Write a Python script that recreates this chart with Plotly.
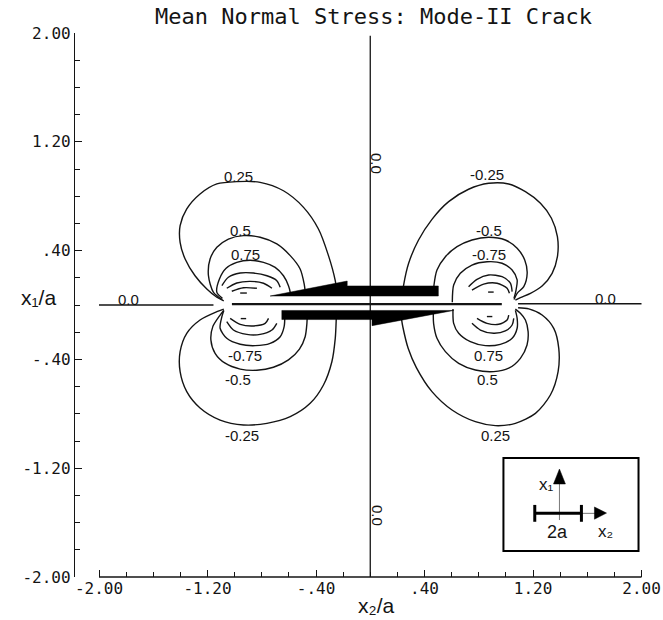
import plotly.graph_objects as go

# ---------------- contour lines (x2/a, x1/a) ----------------
# upper-left quadrant (positive levels)
UL_025_X = [-0.25, -0.258, -0.308, -0.382, -0.492, -0.640, -0.812, -0.984, -1.131, -1.255, -1.353, -1.402, -1.402, -1.365, -1.292, -1.205, -1.131, -1.08]
UL_025_Y = [0.12, 0.179, 0.363, 0.559, 0.718, 0.840, 0.902, 0.907, 0.890, 0.816, 0.706, 0.583, 0.461, 0.338, 0.215, 0.118, 0.057, 0.03]
UL_050_X = [-1.09, -1.156, -1.193, -1.181, -1.131, -1.046, -0.935, -0.812, -0.689, -0.590, -0.517, -0.487, -0.48]
UL_050_Y = [0.04, 0.093, 0.215, 0.338, 0.424, 0.485, 0.510, 0.498, 0.449, 0.363, 0.265, 0.154, 0.10]
UL_075_X = [-1.09, -1.131, -1.112, -1.063, -0.984, -0.886, -0.787, -0.701, -0.640, -0.603, -0.590, -0.588]
UL_075_Y = [0.05, 0.093, 0.191, 0.270, 0.314, 0.329, 0.314, 0.277, 0.215, 0.142, 0.093, 0.07]
UL_IN1_X = [-1.094, -1.046, -0.959, -0.861, -0.762, -0.689, -0.664]
UL_IN1_Y = [0.142, 0.204, 0.235, 0.235, 0.215, 0.179, 0.130]
UL_IN2_X = [-1.058, -0.984, -0.886, -0.787, -0.725]
UL_IN2_Y = [0.123, 0.162, 0.174, 0.160, 0.123]
UL_IN3_X = [-1.021, -0.935, -0.836]
UL_IN3_Y = [0.101, 0.127, 0.123]
UL_DASH_X = [-0.959, -0.91]
UL_DASH_Y = [0.088, 0.088]

# upper-right quadrant (negative levels)
UR_025_X = [0.24, 0.246, 0.283, 0.356, 0.455, 0.578, 0.725, 0.873, 1.021, 1.144, 1.255, 1.336, 1.380, 1.380, 1.341, 1.267, 1.181, 1.107, 1.07]
UR_025_Y = [0.10, 0.147, 0.307, 0.478, 0.630, 0.760, 0.851, 0.895, 0.890, 0.833, 0.748, 0.638, 0.502, 0.355, 0.233, 0.140, 0.086, 0.054, 0.035]
UR_050_X = [0.467, 0.470, 0.492, 0.554, 0.640, 0.750, 0.873, 0.996, 1.083, 1.139, 1.157, 1.132, 1.083, 1.06]
UR_050_Y = [0.10, 0.147, 0.257, 0.355, 0.429, 0.478, 0.498, 0.478, 0.417, 0.331, 0.233, 0.135, 0.086, 0.04]
UR_075_X = [0.605, 0.615, 0.664, 0.750, 0.861, 0.972, 1.046, 1.083, 1.075, 1.06]
UR_075_Y = [0.02, 0.147, 0.233, 0.294, 0.318, 0.307, 0.257, 0.184, 0.110, 0.05]
UR_IN1_X = [0.725, 0.787, 0.873, 0.972, 1.033, 1.046]
UR_IN1_Y = [0.135, 0.189, 0.221, 0.208, 0.160, 0.098]
UR_IN2_X = [0.750, 0.836, 0.935, 1.009, 1.026]
UR_IN2_Y = [0.110, 0.154, 0.160, 0.123, 0.086]
UR_DASH_X = [0.869, 0.910]
UR_DASH_Y = [0.095, 0.095]

# lower-left quadrant (negative levels)
LL_025_X = [-1.08, -1.131, -1.255, -1.353, -1.402, -1.402, -1.353, -1.255, -1.107, -0.935, -0.762, -0.590, -0.443, -0.345, -0.283, -0.258, -0.251, -0.25]
LL_025_Y = [-0.03, -0.049, -0.110, -0.208, -0.343, -0.490, -0.637, -0.757, -0.846, -0.882, -0.870, -0.821, -0.723, -0.588, -0.417, -0.245, -0.110, -0.07]
LL_050_X = [-1.08, -1.107, -1.161, -1.175, -1.144, -1.070, -0.959, -0.836, -0.714, -0.603, -0.522, -0.480, -0.467, -0.465]
LL_050_Y = [-0.04, -0.074, -0.159, -0.257, -0.355, -0.428, -0.471, -0.480, -0.458, -0.404, -0.324, -0.233, -0.135, -0.08]
LL_075_X = [-1.08, -1.094, -1.107, -1.058, -0.959, -0.849, -0.738, -0.664, -0.635, -0.63]
LL_075_Y = [-0.04, -0.086, -0.171, -0.245, -0.289, -0.299, -0.282, -0.233, -0.159, -0.08]
LL_IN1_X = [-1.058, -1.009, -0.910, -0.812, -0.725, -0.689]
LL_IN1_Y = [-0.123, -0.184, -0.216, -0.216, -0.184, -0.135]
LL_IN2_X = [-1.033, -0.959, -0.861, -0.775, -0.750]
LL_IN2_Y = [-0.098, -0.142, -0.154, -0.135, -0.098]
LL_DASH_X = [-0.955, -0.915]
LL_DASH_Y = [-0.10, -0.10]

# lower-right quadrant (positive levels)
LR_025_X = [0.23, 0.24, 0.28, 0.34, 0.455, 0.603, 0.775, 0.923, 1.070, 1.218, 1.328, 1.385, 1.390, 1.353, 1.267, 1.169, 1.09]
LR_025_Y = [-0.10, -0.16, -0.32, -0.46, -0.637, -0.772, -0.858, -0.887, -0.870, -0.797, -0.662, -0.490, -0.319, -0.172, -0.074, -0.029, -0.02]
LR_050_X = [0.465, 0.467, 0.492, 0.554, 0.652, 0.775, 0.910, 1.021, 1.107, 1.156, 1.164, 1.144, 1.107, 1.07]
LR_050_Y = [-0.06, -0.135, -0.245, -0.343, -0.429, -0.478, -0.490, -0.465, -0.392, -0.294, -0.196, -0.110, -0.061, -0.03]
LR_075_X = [0.61, 0.615, 0.652, 0.738, 0.849, 0.959, 1.046, 1.083, 1.083, 1.07]
LR_075_Y = [-0.03, -0.135, -0.208, -0.270, -0.299, -0.289, -0.245, -0.171, -0.098, -0.04]
LR_IN1_X = [0.750, 0.812, 0.910, 0.996, 1.046, 1.058]
LR_IN1_Y = [-0.135, -0.184, -0.208, -0.191, -0.147, -0.098]
LR_IN2_X = [0.787, 0.861, 0.947, 1.009, 1.021]
LR_IN2_Y = [-0.098, -0.135, -0.142, -0.110, -0.074]
LR_DASH_X = [0.86, 0.90]
LR_DASH_Y = [-0.085, -0.085]

# zero contours and the crack line
ZERO_LEFT_X = [-2.0, -1.156]
ZERO_LEFT_Y = [0.0, 0.0]
ZERO_RIGHT_X = [1.09, 2.0]
ZERO_RIGHT_Y = [0.01, 0.01]
CRACK_X = [-1.02, 0.97]
CRACK_Y = [0.007, 0.007]
ZERO_VERT_X = [0.0, 0.0]
ZERO_VERT_Y = [1.98, -2.0]

# contour labels
LABEL_TEXT = ["0.25", "0.5", "0.75", "-0.25", "-0.5", "-0.75",
              "-0.75", "-0.5", "-0.25", "0.75", "0.5", "0.25", "0.0", "0.0"]
LABEL_X = [-0.972, -0.959, -0.923, 0.861, 0.873, 0.873,
           -0.923, -0.972, -0.947, 0.873, 0.861, 0.923, -1.784, 1.734]
LABEL_Y = [0.943, 0.551, 0.368, 0.956, 0.551, 0.375,
           -0.368, -0.551, -0.956, -0.368, -0.551, -0.961, 0.042, 0.049]
VLABEL_Y = [1.044, -1.544]

# shear arrows on the crack faces
TOP_ARROW_X = [-0.738, -0.170, -0.170, 0.502, 0.502]
TOP_ARROW_Y = [0.066, 0.176, 0.140, 0.140, 0.066]
BOT_ARROW_X = [-0.652, 0.615, 0.013, 0.013, -0.652]
BOT_ARROW_Y = [-0.040, -0.040, -0.152, -0.107, -0.107]

# axis ticks
TICK_VALS = [-2.0, -1.2, -0.4, 0.4, 1.2, 2.0]
TICK_TEXT = ["-2.00", "-1.20", "-.40", ".40", "1.20", "2.00"]

# inset sketch geometry (data units)
INSET_BOX = [0.982, -1.809, 1.978, -1.125]
INSET_VAXIS = [1.395, -1.581, 1.395, -1.30]
INSET_UPHEAD_X = [1.395, 1.351, 1.439]
INSET_UPHEAD_Y = [-1.206, -1.316, -1.316]
INSET_BAR = [1.213, 1.557, -1.532]
INSET_HLINE = [1.557, 1.68, -1.532]
INSET_RHEAD_X = [1.742, 1.653, 1.653]
INSET_RHEAD_Y = [-1.530, -1.485, -1.575]

INK = "#141414"
MONO = "DejaVu Sans Mono"
SANS = "Liberation Sans, DejaVu Sans"

fig = go.Figure()

def add_line(xs, ys, width=1.4, shape="spline"):
    fig.add_trace(go.Scatter(x=xs, y=ys, mode="lines",
                             line=dict(color=INK, width=width, shape=shape, smoothing=0.8),
                             hoverinfo="skip", showlegend=False))

curves = [
    (UL_025_X, UL_025_Y), (UL_050_X, UL_050_Y), (UL_075_X, UL_075_Y),
    (UL_IN1_X, UL_IN1_Y), (UL_IN2_X, UL_IN2_Y), (UL_IN3_X, UL_IN3_Y), (UL_DASH_X, UL_DASH_Y),
    (UR_025_X, UR_025_Y), (UR_050_X, UR_050_Y), (UR_075_X, UR_075_Y),
    (UR_IN1_X, UR_IN1_Y), (UR_IN2_X, UR_IN2_Y), (UR_DASH_X, UR_DASH_Y),
    (LL_025_X, LL_025_Y), (LL_050_X, LL_050_Y), (LL_075_X, LL_075_Y),
    (LL_IN1_X, LL_IN1_Y), (LL_IN2_X, LL_IN2_Y), (LL_DASH_X, LL_DASH_Y),
    (LR_025_X, LR_025_Y), (LR_050_X, LR_050_Y), (LR_075_X, LR_075_Y),
    (LR_IN1_X, LR_IN1_Y), (LR_IN2_X, LR_IN2_Y), (LR_DASH_X, LR_DASH_Y),
]
for cx, cy in curves:
    add_line(cx, cy)

add_line(ZERO_LEFT_X, ZERO_LEFT_Y, 1.5, "linear")
add_line(ZERO_RIGHT_X, ZERO_RIGHT_Y, 1.5, "linear")
add_line(CRACK_X, CRACK_Y, 2.2, "linear")
add_line(ZERO_VERT_X, ZERO_VERT_Y, 1.3, "linear")

def note(x, y, text, size, family=SANS, ref="x", angle=0):
    yref = "y" if ref == "x" else "paper"
    return dict(x=x, y=y, xref=ref, yref=yref, text=text, showarrow=False,
                xanchor="center", yanchor="middle", textangle=angle,
                font=dict(family=family, size=size, color=INK))

annotations = []
for t, lx, ly in zip(LABEL_TEXT, LABEL_X, LABEL_Y):
    annotations.append(note(lx, ly, t, 15))
for vy in VLABEL_Y:
    annotations.append(note(0.05, vy, "0.0", 15, angle=90))

# title and axis titles (paper coordinates so they are not hidden off-range)
annotations.append(note(0.519, 1.031, "Mean Normal Stress: Mode-II Crack", 22, MONO, "paper"))
annotations.append(note(-0.064, 0.513, "x₁/a", 21, SANS, "paper"))
annotations.append(note(0.523, -0.053, "x₂/a", 21, SANS, "paper"))
# inset texts
annotations.append(note(1.30, -1.322, "x₁", 17))
annotations.append(note(1.38, -1.669, "2a", 18))
annotations.append(note(1.735, -1.669, "x₂", 17))

def poly(xs, ys):
    return "M " + " L ".join(f"{a},{b}" for a, b in zip(xs, ys)) + " Z"

shapes = [
    dict(type="path", path=poly(TOP_ARROW_X, TOP_ARROW_Y), xref="x", yref="y",
         fillcolor="black", line=dict(color="black", width=0.5)),
    dict(type="path", path=poly(BOT_ARROW_X, BOT_ARROW_Y), xref="x", yref="y",
         fillcolor="black", line=dict(color="black", width=0.5)),
    # bottom axis line spanning only -2..2
    dict(type="line", xref="x", yref="paper", x0=-2.0, x1=2.0, y0=0, y1=0,
         line=dict(color=INK, width=1.3)),
    # inset
    dict(type="rect", xref="x", yref="y", x0=INSET_BOX[0], y0=INSET_BOX[1], x1=INSET_BOX[2], y1=INSET_BOX[3],
         line=dict(color="black", width=2), fillcolor="white"),
    dict(type="line", xref="x", yref="y", x0=INSET_VAXIS[0], y0=INSET_VAXIS[1], x1=INSET_VAXIS[2], y1=INSET_VAXIS[3],
         line=dict(color="#777", width=1)),
    dict(type="path", path=poly(INSET_UPHEAD_X, INSET_UPHEAD_Y), xref="x", yref="y",
         fillcolor="black", line=dict(color="black", width=0.5)),
    dict(type="line", xref="x", yref="y", x0=INSET_HLINE[0], y0=INSET_HLINE[2], x1=INSET_HLINE[1], y1=INSET_HLINE[2],
         line=dict(color="#777", width=1)),
    dict(type="path", path=poly(INSET_RHEAD_X, INSET_RHEAD_Y), xref="x", yref="y",
         fillcolor="black", line=dict(color="black", width=0.5)),
    dict(type="line", xref="x", yref="y", x0=INSET_BAR[0], y0=INSET_BAR[2], x1=INSET_BAR[1], y1=INSET_BAR[2],
         line=dict(color="black", width=3)),
    dict(type="line", xref="x", yref="y", x0=INSET_BAR[0], y0=INSET_BAR[2] + 0.062, x1=INSET_BAR[0], y1=INSET_BAR[2] - 0.062,
         line=dict(color="black", width=3)),
    dict(type="line", xref="x", yref="y", x0=INSET_BAR[1], y0=INSET_BAR[2] + 0.062, x1=INSET_BAR[1], y1=INSET_BAR[2] - 0.062,
         line=dict(color="black", width=3)),
]

fig.update_layout(
    width=663, height=620,
    margin=dict(l=75, r=12, t=33, b=43, autoexpand=False),
    paper_bgcolor="white", plot_bgcolor="white",
    showlegend=False,
    annotations=annotations,
    shapes=shapes,
    xaxis=dict(range=[-2.177, 2.07], showgrid=False, zeroline=False, showline=False,
               automargin=False,
               tickmode="array", tickvals=TICK_VALS, ticktext=TICK_TEXT,
               ticks="inside", ticklen=7, tickwidth=1.2, tickcolor=INK,
               minor=dict(dtick=0.2, tick0=0, ticks="inside", ticklen=5, tickwidth=1.1, tickcolor=INK),
               tickfont=dict(family=MONO, size=16, color=INK)),
    yaxis=dict(range=[-2.0, 2.0], showgrid=False, zeroline=False, showline=True,
               automargin=False,
               linecolor=INK, linewidth=1.3,
               tickmode="array", tickvals=TICK_VALS, ticktext=TICK_TEXT,
               ticks="inside", ticklen=7, tickwidth=1.2, tickcolor=INK,
               minor=dict(dtick=0.2, tick0=0, ticks="inside", ticklen=5, tickwidth=1.1, tickcolor=INK),
               tickfont=dict(family=MONO, size=16, color=INK)),
)

fig.write_html("out.html",
               config={"displayModeBar": False},
               post_script="document.body.style.margin='0';"
                           "document.documentElement.style.overflow='hidden';")
